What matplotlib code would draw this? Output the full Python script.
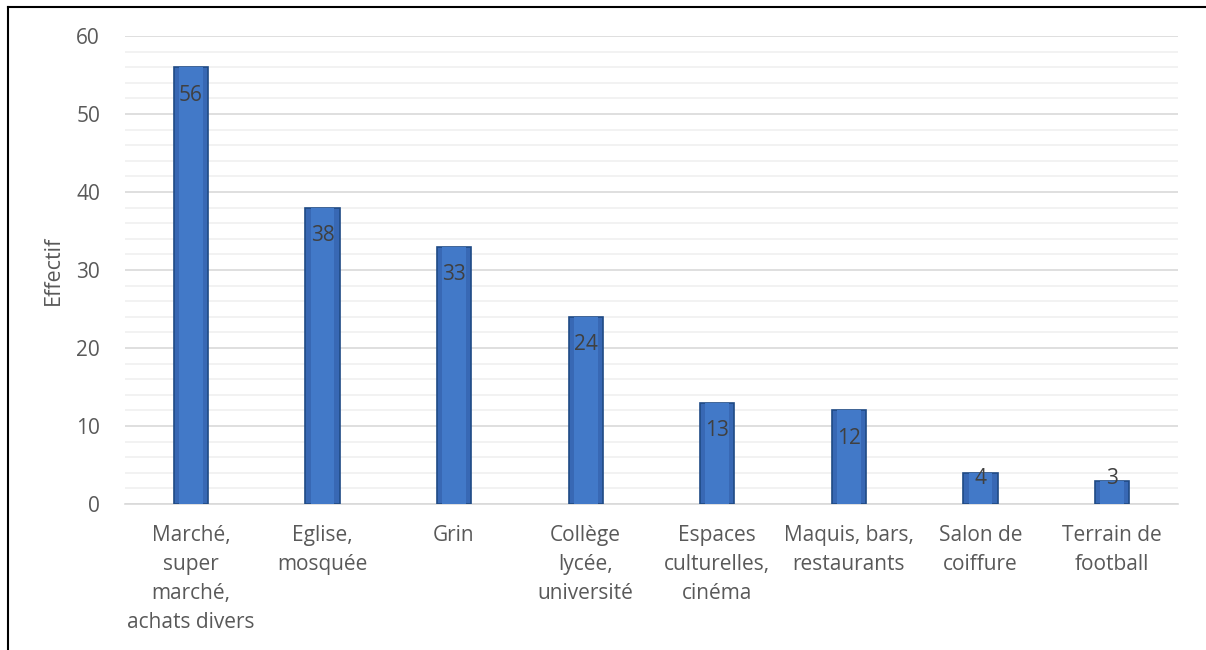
"""Bar chart: Effectif par lieu fréquenté."""
import matplotlib
matplotlib.use("Agg")
import matplotlib.pyplot as plt
from matplotlib.lines import Line2D

categories = ["Marché,\nsuper\nmarché,\nachats divers", "Eglise,\nmosquée", "Grin",
              "Collège\nlycée,\nuniversité", "Espaces\nculturelles,\ncinéma",
              "Maquis, bars,\nrestaurants", "Salon de\ncoiffure", "Terrain de\nfootball"]
values = [56, 38, 33, 24, 13, 12, 4, 3]
yticks = [0, 10, 20, 30, 40, 50, 60]

plt.rcParams["font.family"] = ["Open Sans", "DejaVu Sans"]
txt = "#595959"

fig = plt.figure(figsize=(12.06, 6.5), dpi=100)
ax = fig.add_axes([125 / 1206, 1 - 504 / 650, (1178 - 125) / 1206, (504 - 36) / 650])

x = list(range(len(values)))
ax.bar(x, values, width=0.26, color="#3868B4", edgecolor="#1F4A85", linewidth=1.2, zorder=3)
# lighter middle to mimic the bevel look
ax.bar(x, values, width=0.18, color="#4279C8", linewidth=0, zorder=3.5)

for xi, v in zip(x, values):
    ax.text(xi, max(v - 3.6, 3.3), str(v), ha="center", va="center",
            fontsize=15, color="#404040", zorder=5)

ax.set_xlim(-0.5, len(values) - 0.5)
ax.set_ylim(0, 60)
ax.set_yticks(yticks)
ax.set_yticks(range(0, 61, 2), minor=True)
ax.grid(axis="y", which="major", color="#D9D9D9", linewidth=1.2, zorder=0)
ax.grid(axis="y", which="minor", color="#F0F0F0", linewidth=1.2, zorder=0)
ax.set_xticks(x)
ax.set_xticklabels(categories, fontsize=15, color=txt, linespacing=1.5)
ax.tick_params(axis="y", which="both", length=0, labelsize=15, labelcolor=txt, pad=18)
ax.tick_params(axis="x", length=0, pad=15)
for s in ["top", "right", "left"]:
    ax.spines[s].set_visible(False)
ax.spines["bottom"].set_color("#D9D9D9")
ax.spines["bottom"].set_linewidth(1.2)
ax.set_ylabel("Effectif", fontsize=15.5, color=txt, labelpad=9)

# outer frame (top and left edges only visible)
fig.add_artist(Line2D([8 / 1206, 1], [1 - 7 / 650, 1 - 7 / 650], color="black", linewidth=1.5))
fig.add_artist(Line2D([8 / 1206, 8 / 1206], [0, 1 - 7 / 650], color="black", linewidth=1.5))

fig.savefig("out.png", dpi=100)
